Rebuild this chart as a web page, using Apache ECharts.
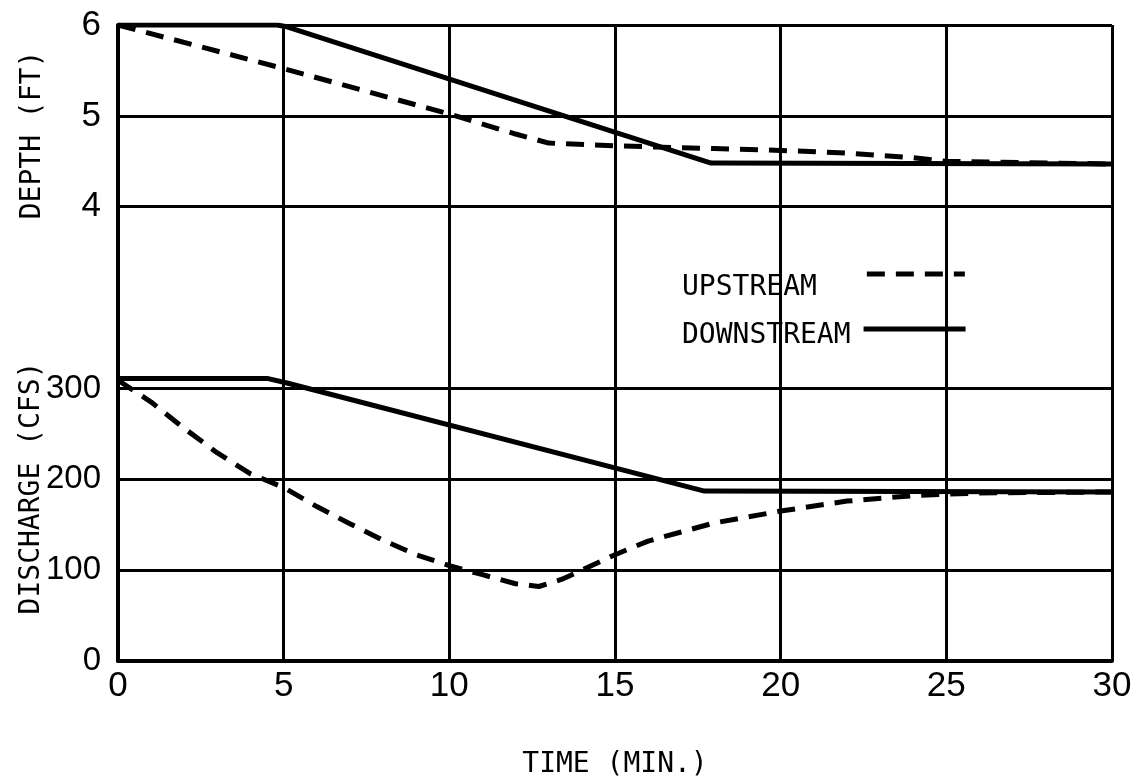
<!DOCTYPE html>
<html>
<head>
<meta charset="utf-8">
<script src="https://cdn.jsdelivr.net/npm/echarts@6/dist/echarts.min.js"></script>
<style>
html, body { margin: 0; padding: 0; background: #fff; }
#chart { width: 1138px; height: 784px; }
</style>
</head>
<body>
<div id="chart"></div>
<script>
// time (min) ticks
var timeTicks = [0, 5, 10, 15, 20, 25, 30];
// depth (ft) vs time
var upDepth = [[0, 6.0], [2.5, 5.76], [5, 5.52], [7.5, 5.27], [10, 5.02], [12, 4.8], [13, 4.7],
	[15, 4.67], [18, 4.64], [20, 4.62], [22, 4.59], [24, 4.54], [25, 4.5], [30, 4.47]];
var downDepth = [[0, 6.0], [4.8, 6.0], [5.1, 5.98], [17.9, 4.48], [30, 4.47]];
// discharge (cfs) vs time
var upFlow = [[0, 309], [1, 285], [2, 256], [3, 229], [4, 206], [5, 191], [6, 170], [7, 151],
	[8, 133], [9, 117], [10, 105], [11, 95], [12, 85], [12.7, 82], [13.4, 90], [14, 100],
	[15, 117], [16, 132], [17, 142], [18, 152], [20, 165], [22, 176], [24, 182], [26, 185], [30, 186]];
var downFlow = [[0, 311], [4.5, 311], [5.1, 306], [17.7, 187], [30, 186]];
var flowLabels = [0, 100, 200, 300];
var depthLabels = [4, 5, 6];

var tickFont = '"Liberation Sans Narrow", "Liberation Sans", sans-serif';
var textFont = '"DejaVu Sans Mono", monospace';

var myChart = echarts.init(document.getElementById('chart'));

var option = {
	backgroundColor: '#fff',
	animation: false,
	grid: { left: 118, right: 26, top: 25, bottom: 112 },
	xAxis: {
		type: 'value', min: 0, max: 30, interval: 5,
		name: 'TIME (MIN.)', nameLocation: 'middle', nameGap: 90,
		nameTextStyle: { fontFamily: textFont, fontSize: 28, color: '#000' },
		axisLine: { lineStyle: { color: '#000', width: 4 } },
		axisTick: { show: false },
		axisLabel: {
			margin: 8, color: '#000', fontFamily: tickFont, fontSize: 35,
			formatter: function (v) { return timeTicks.indexOf(v) >= 0 ? v : ''; }
		},
		splitLine: { show: true, lineStyle: { color: '#000', width: 3 } }
	},
	yAxis: [{
		type: 'value', min: 0, max: 700, interval: 100,
		axisLine: { show: true, lineStyle: { color: '#000', width: 4 } },
		axisTick: { show: false },
		axisLabel: {
			margin: 17, color: '#000', fontFamily: tickFont, fontSize: 33,
			formatter: function (v) { return flowLabels.indexOf(v) >= 0 ? v : ''; }
		},
		splitLine: {
			show: true,
			lineStyle: { width: 3, color: ['#000', '#000', '#000', '#000', 'rgba(0,0,0,0)', '#000', '#000', '#000'] }
		}
	}, {
		type: 'value', min: -1, max: 6, interval: 1, position: 'left',
		axisLine: { show: false },
		axisTick: { show: false },
		splitLine: { show: false },
		axisLabel: {
			margin: 17, color: '#000', fontFamily: tickFont, fontSize: 35,
			formatter: function (v) { return depthLabels.indexOf(v) >= 0 ? v : ''; }
		}
	}],
	legend: [{
		data: ['UPSTREAM'], left: 682, top: 246, padding: 0, align: 'right',
		selectedMode: false, itemWidth: 98, itemHeight: 14,
		formatter: '\n{name}',
		itemStyle: { opacity: 0 },
		lineStyle: { width: 5 },
		textStyle: { fontFamily: textFont, fontSize: 28, color: '#000', lineHeight: 28, padding: [0, 45, 0, 0] }
	}, {
		data: ['DOWNSTREAM'], left: 682, top: 308, padding: 0, align: 'right',
		selectedMode: false, itemWidth: 102, itemHeight: 14,
		formatter: '\n{name}',
		itemStyle: { opacity: 0 },
		lineStyle: { width: 5 },
		textStyle: { fontFamily: textFont, fontSize: 28, color: '#000', lineHeight: 14, padding: [0, 8, 0, 0] }
	}],
	graphic: [{
		type: 'text', x: 33, y: 135, rotation: Math.PI / 2,
		style: { text: 'DEPTH (FT)', font: '28px ' + textFont, fill: '#000', textAlign: 'center', textVerticalAlign: 'middle' }
	}, {
		type: 'text', x: 32, y: 488, rotation: Math.PI / 2,
		style: { text: 'DISCHARGE (CFS)', font: '28px ' + textFont, fill: '#000', textAlign: 'center', textVerticalAlign: 'middle' }
	}],
	series: [{
		name: 'UPSTREAM', type: 'line', yAxisIndex: 1, data: upDepth, symbol: 'none',
		itemStyle: { color: '#000' },
		lineStyle: { color: '#000', width: 5, type: [18, 11] }
	}, {
		name: 'DOWNSTREAM', type: 'line', yAxisIndex: 1, data: downDepth, symbol: 'none',
		itemStyle: { color: '#000' },
		lineStyle: { color: '#000', width: 5 }
	}, {
		name: 'UPSTREAM', type: 'line', yAxisIndex: 0, data: upFlow, symbol: 'none',
		itemStyle: { color: '#000' },
		lineStyle: { color: '#000', width: 5, type: [18, 11] }
	}, {
		name: 'DOWNSTREAM', type: 'line', yAxisIndex: 0, data: downFlow, symbol: 'none',
		itemStyle: { color: '#000' },
		lineStyle: { color: '#000', width: 5 }
	}]
};
myChart.setOption(option);
</script>
</body>
</html>
